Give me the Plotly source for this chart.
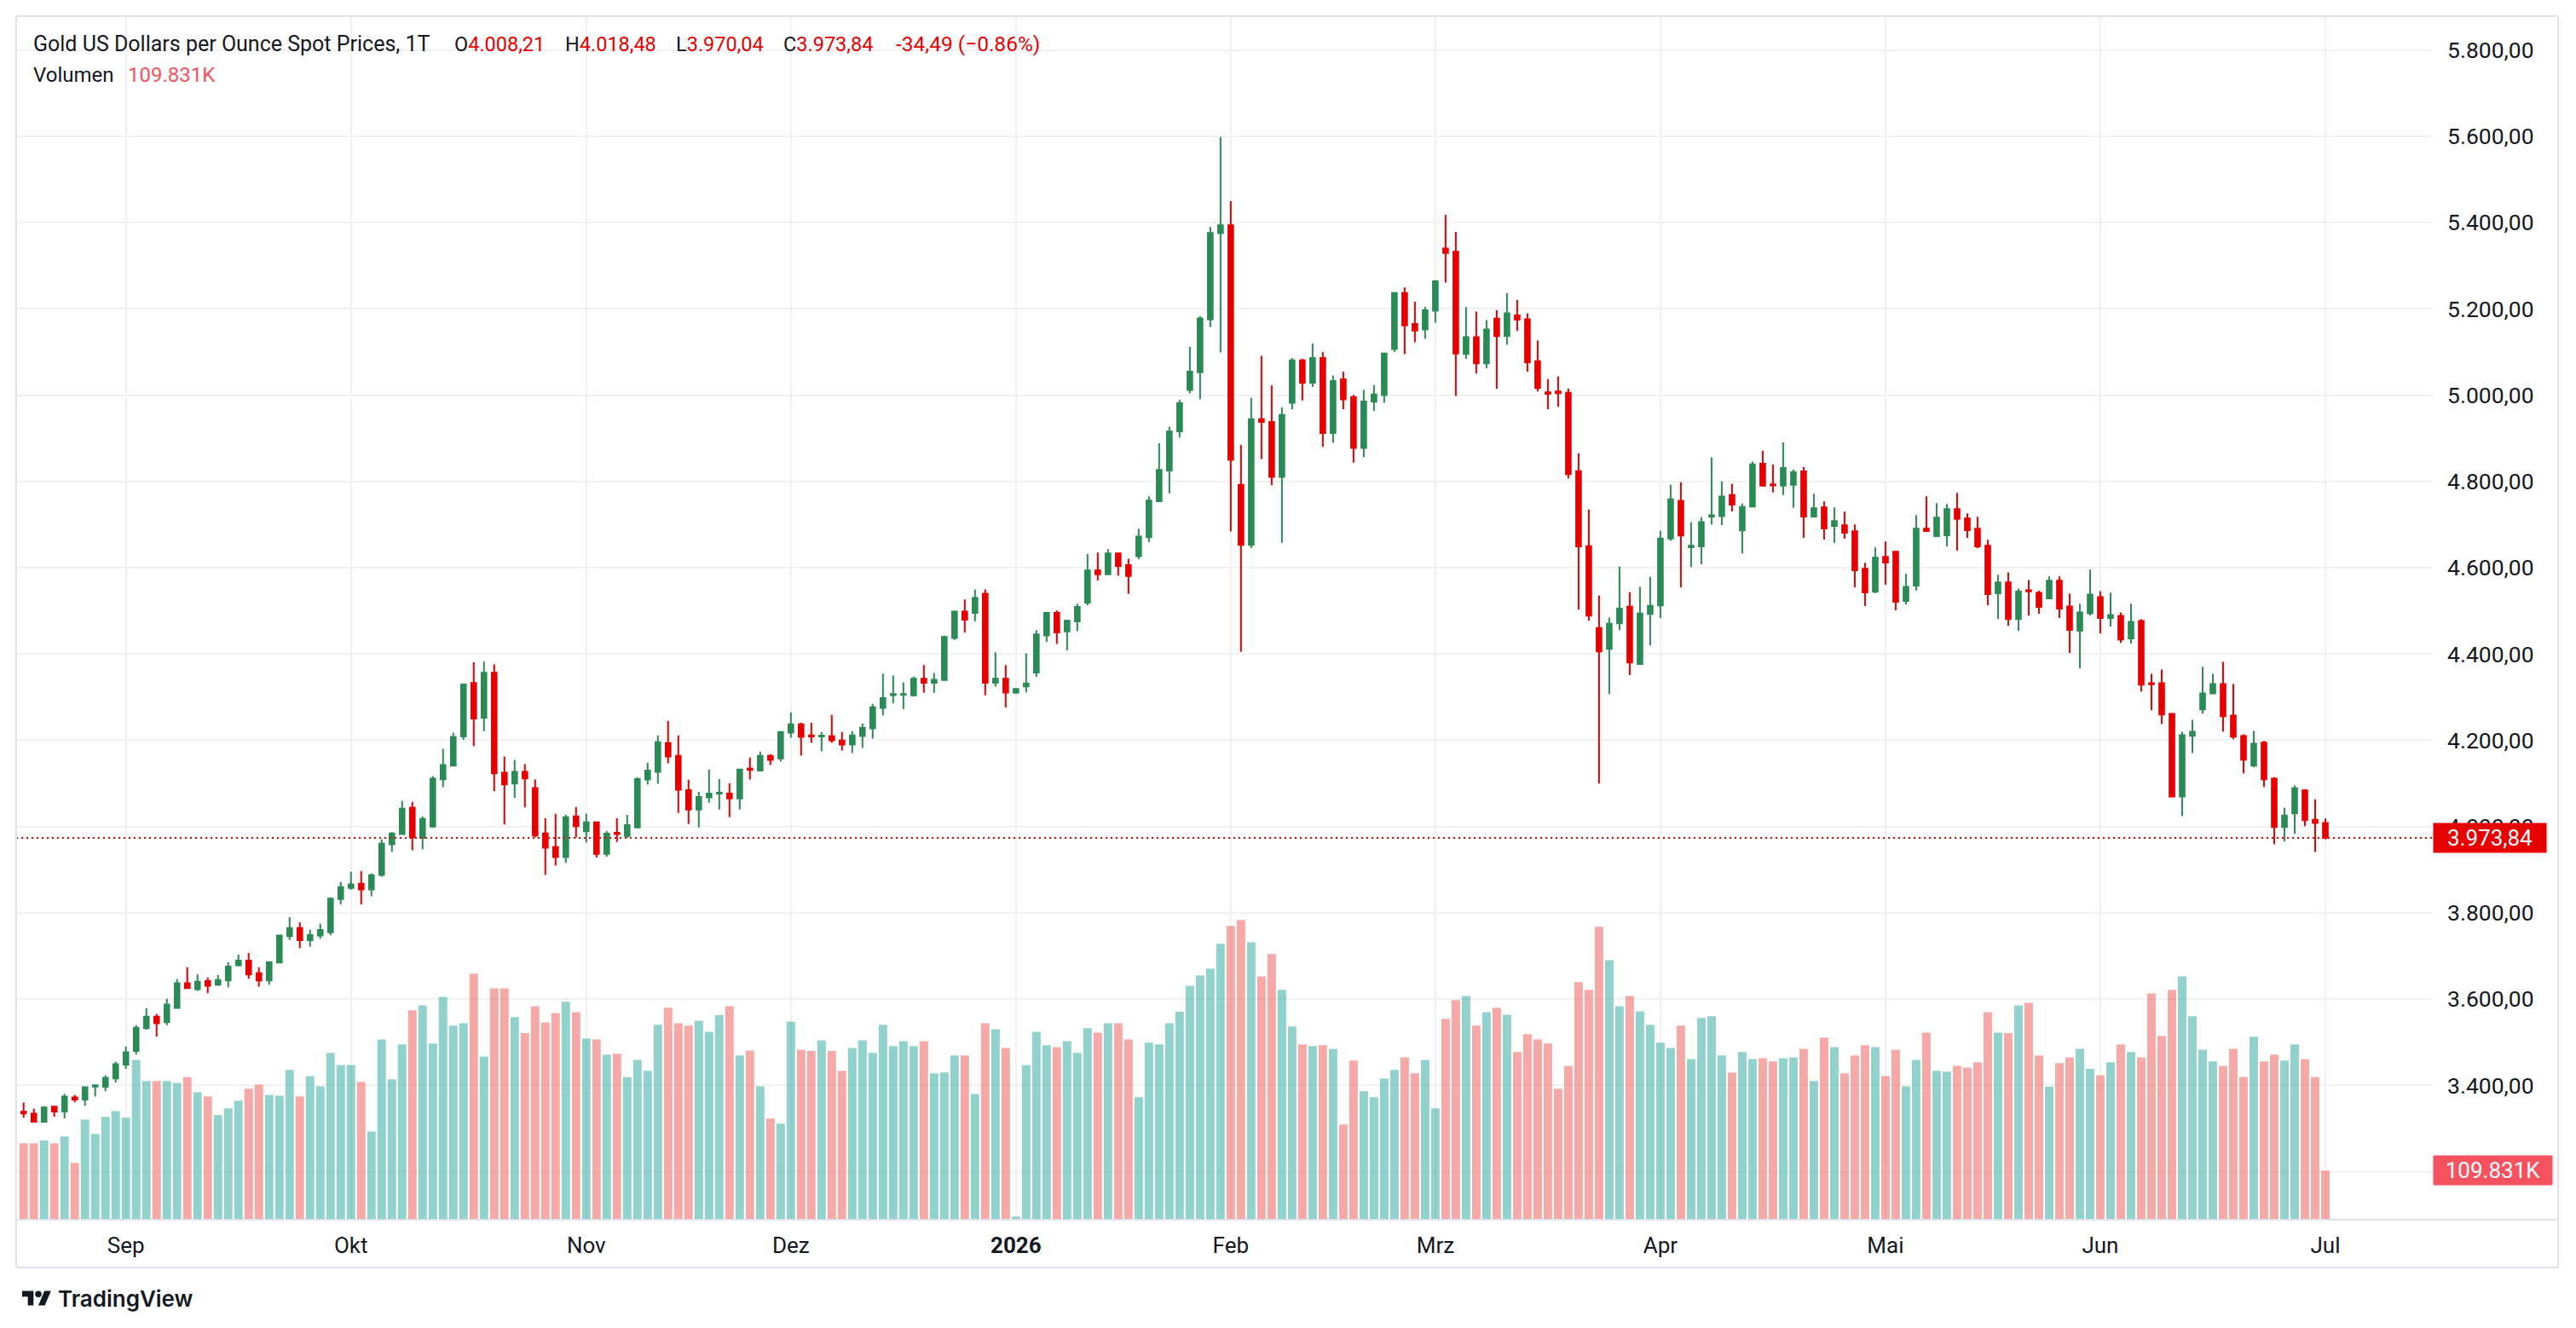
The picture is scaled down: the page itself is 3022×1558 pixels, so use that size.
import pandas as pd
import plotly.graph_objects as go

# ---------------- data ----------------
holidays = ["2025-12-25", "2026-01-01"]
dates = [d.strftime("%Y-%m-%d") for d in pd.bdate_range("2025-08-18", "2026-07-01")
         if d.strftime("%Y-%m-%d") not in holidays]

open_ = [
    3339.0, 3334.5, 3315.5, 3350.7, 3339.5, 3371.9, 3366.9, 3397.2, 3396.5, 3416.2,
    3447.9, 3479.6, 3532.4, 3559.2, 3546.5, 3579.6, 3636.6, 3623.2, 3641.5, 3633.1,
    3643.0, 3678.2, 3689.4, 3659.9, 3643.0, 3684.5, 3745.8, 3764.8, 3736.6, 3747.2,
    3755.0, 3831.7, 3857.4, 3867.3, 3854.1, 3887.8, 3959.1, 3982.8, 4043.6, 3973.6,
    4000.0, 4109.6, 4141.3, 4208.6, 4332.7, 4252.1, 4356.4, 4124.8, 4099.7, 4126.7,
    4089.1, 3984.2, 3952.5, 3929.4, 4023.8, 3988.8, 4009.9, 3936.6, 3985.5, 3978.2,
    3998.0, 4108.9, 4126.7, 4193.4, 4163.7, 4084.5, 4039.6, 4067.3, 4076.6, 4076.6,
    4065.3, 4134.0, 4130.0, 4163.7, 4157.8, 4217.8, 4237.0, 4211.2, 4208.6, 4209.2,
    4199.3, 4190.1, 4209.9, 4227.7, 4275.2, 4304.7, 4305.5, 4303.9, 4342.5, 4333.4,
    4339.5, 4437.1, 4498.3, 4495.3, 4539.9, 4333.4, 4342.5, 4310.7, 4325.1, 4356.9,
    4443.1, 4495.3, 4452.2, 4475.6, 4518.8, 4593.6, 4584.6, 4633.0, 4605.8, 4626.9,
    4670.8, 4754.0, 4825.1, 4916.1, 5012.0, 5053.1, 5175.5, 5375.3, 5393.8, 4792.1,
    4652.8, 4944.3, 4937.9, 4810.7, 4982.2, 5080.5, 5029.0, 5086.1, 4912.1, 5036.9,
    4995.1, 4877.5, 4984.6, 4999.9, 5107.0, 5236.7, 5165.0, 5152.2, 5195.7, 5339.8,
    5332.6, 5095.6, 5134.4, 5073.6, 5177.7, 5137.1, 5184.7, 5175.9, 5078.9, 5006.5,
    5008.3, 5005.6, 4823.9, 4650.1, 4460.4, 4411.9, 4471.1, 4509.8, 4376.6, 4493.0,
    4512.5, 4667.8, 4755.1, 4647.5, 4649.2, 4718.1, 4719.8, 4768.3, 4686.3, 4741.9,
    4840.9, 4793.4, 4790.1, 4792.1, 4823.1, 4718.8, 4739.9, 4697.0, 4698.3, 4684.5,
    4597.4, 4544.6, 4625.1, 4637.0, 4522.8, 4558.4, 4690.4, 4673.3, 4675.2, 4736.0,
    4714.2, 4690.4, 4650.8, 4540.6, 4565.7, 4481.2, 4547.9, 4541.9, 4528.8, 4569.7,
    4510.3, 4453.6, 4494.5, 4532.1, 4483.3, 4488.6, 4435.8, 4476.7, 4332.3, 4332.3,
    4261.1, 4069.3, 4210.3, 4271.7, 4308.6, 4330.3, 4257.2, 4209.7, 4141.1, 4194.5,
    4110.8, 3998.7, 4030.3, 4083.7, 4015.8, 4008.21,
]

high = [
    3360.0, 3345.8, 3352.0, 3352.8, 3380.3, 3378.2, 3395.8, 3400.0, 3423.3, 3455.0,
    3490.1, 3539.4, 3578.9, 3565.5, 3600.7, 3646.5, 3673.9, 3657.7, 3650.0, 3656.3,
    3685.9, 3703.5, 3707.0, 3673.9, 3686.0, 3748.6, 3790.1, 3778.2, 3760.6, 3775.0,
    3836.0, 3871.3, 3895.0, 3897.0, 3891.1, 3970.3, 3986.8, 4059.4, 4057.4, 4023.8,
    4116.8, 4180.2, 4217.8, 4331.4, 4380.9, 4382.2, 4376.2, 4162.4, 4154.5, 4144.6,
    4108.9, 4019.8, 4029.7, 4027.7, 4045.5, 4029.7, 4011.0, 3989.4, 4019.1, 4027.1,
    4114.2, 4147.9, 4211.2, 4244.9, 4211.2, 4108.3, 4080.5, 4132.0, 4110.2, 4100.3,
    4132.0, 4159.7, 4173.6, 4167.7, 4219.1, 4264.7, 4240.9, 4240.9, 4219.1, 4258.7,
    4219.1, 4221.1, 4238.9, 4284.5, 4354.6, 4350.1, 4334.2, 4347.8, 4374.3, 4356.1,
    4442.4, 4500.6, 4526.3, 4549.8, 4549.8, 4403.8, 4374.3, 4319.0, 4401.5, 4455.2,
    4497.6, 4500.6, 4479.4, 4516.5, 4631.5, 4635.2, 4642.8, 4633.0, 4620.9, 4690.5,
    4765.4, 4888.7, 4927.2, 4989.4, 5111.9, 5182.8, 5389.8, 5598.4, 5449.4, 4884.7,
    4993.5, 5090.9, 5022.5, 4971.7, 5086.1, 5084.5, 5119.9, 5099.8, 5045.8, 5054.7,
    5000.7, 5012.0, 5023.3, 5099.0, 5239.1, 5249.6, 5216.6, 5204.5, 5266.5, 5418.0,
    5378.5, 5204.2, 5193.6, 5174.2, 5197.1, 5236.8, 5220.9, 5190.0, 5126.5, 5037.4,
    5043.6, 5015.4, 4865.4, 4734.8, 4535.4, 4484.3, 4602.5, 4543.4, 4555.7, 4578.7,
    4685.4, 4792.1, 4798.3, 4705.7, 4717.2, 4855.7, 4800.1, 4794.8, 4748.9, 4845.9,
    4870.6, 4838.9, 4890.4, 4827.1, 4833.0, 4771.6, 4753.8, 4739.9, 4730.0, 4700.3,
    4611.2, 4646.9, 4660.7, 4637.0, 4585.5, 4722.1, 4765.7, 4749.8, 4747.9, 4773.6,
    4726.1, 4718.2, 4664.7, 4583.5, 4589.4, 4551.8, 4571.6, 4546.5, 4579.6, 4579.6,
    4540.0, 4516.3, 4595.4, 4545.9, 4542.0, 4496.5, 4516.3, 4480.7, 4354.1, 4364.0,
    4261.1, 4219.6, 4247.3, 4369.9, 4354.1, 4381.8, 4330.3, 4213.6, 4221.5, 4198.5,
    4114.7, 4043.5, 4095.0, 4087.0, 4063.3, 4018.48,
]

low = [
    3325.0, 3315.0, 3313.4, 3327.5, 3323.3, 3360.6, 3352.8, 3374.7, 3386.6, 3406.4,
    3438.0, 3471.2, 3528.9, 3512.7, 3539.4, 3579.6, 3625.0, 3619.0, 3613.4, 3631.0,
    3627.5, 3676.0, 3647.2, 3628.9, 3633.1, 3684.0, 3737.0, 3717.6, 3721.8, 3740.0,
    3748.0, 3819.8, 3853.5, 3819.8, 3838.3, 3883.8, 3941.3, 3982.0, 3945.2, 3947.2,
    3996.7, 4091.1, 4141.0, 4200.7, 4186.8, 4220.5, 4081.8, 4004.6, 4066.0, 4044.2,
    3974.9, 3887.8, 3909.6, 3915.5, 3974.9, 3963.0, 3928.1, 3930.0, 3964.4, 3973.6,
    3998.0, 4097.0, 4099.0, 4146.5, 4031.7, 4005.9, 3998.0, 4055.4, 4039.6, 4021.8,
    4039.6, 4108.9, 4128.7, 4142.6, 4150.5, 4205.9, 4164.4, 4194.1, 4174.3, 4194.1,
    4176.2, 4170.3, 4182.2, 4204.0, 4257.8, 4285.8, 4272.2, 4301.7, 4310.0, 4310.0,
    4339.0, 4432.5, 4449.9, 4475.6, 4303.9, 4324.4, 4275.9, 4307.7, 4310.7, 4347.0,
    4428.0, 4423.4, 4408.3, 4453.0, 4512.7, 4570.2, 4584.0, 4581.5, 4539.2, 4619.4,
    4659.5, 4754.0, 4772.2, 4901.7, 5004.0, 4990.2, 5157.8, 5099.0, 4684.2, 4404.7,
    4645.5, 4851.7, 4791.3, 4657.6, 4966.9, 4987.8, 5019.3, 4879.9, 4889.6, 4966.9,
    4843.7, 4855.7, 4962.9, 4982.2, 5100.6, 5095.0, 5122.4, 5130.4, 5167.5, 5260.9,
    4998.3, 5084.2, 5049.8, 5062.1, 5014.5, 5116.8, 5148.6, 5054.2, 5008.3, 4966.8,
    4973.0, 4807.1, 4502.8, 4477.2, 4099.6, 4306.9, 4455.1, 4351.0, 4376.0, 4419.9,
    4483.4, 4662.5, 4553.9, 4601.6, 4607.8, 4700.4, 4698.6, 4730.4, 4633.3, 4741.0,
    4787.5, 4774.3, 4768.3, 4738.6, 4669.3, 4716.8, 4665.3, 4657.4, 4667.3, 4554.5,
    4510.9, 4540.6, 4560.4, 4501.0, 4514.9, 4546.5, 4685.0, 4673.0, 4649.5, 4639.6,
    4669.3, 4645.5, 4512.9, 4481.2, 4465.3, 4453.5, 4489.1, 4493.1, 4528.0, 4483.3,
    4402.2, 4366.6, 4489.2, 4447.7, 4463.5, 4425.9, 4424.0, 4313.2, 4269.7, 4238.0,
    4067.3, 4024.4, 4170.1, 4261.8, 4307.3, 4220.2, 4202.4, 4123.3, 4137.2, 4091.7,
    3959.1, 3965.1, 3982.9, 4000.7, 3941.3, 3970.04,
]

close = [
    3335.0, 3315.5, 3348.6, 3339.5, 3374.0, 3366.9, 3395.8, 3400.0, 3417.6, 3449.3,
    3476.8, 3533.8, 3559.2, 3544.4, 3587.3, 3636.6, 3625.4, 3640.1, 3631.0, 3644.4,
    3675.4, 3689.4, 3657.0, 3643.0, 3685.9, 3747.2, 3764.8, 3736.6, 3748.6, 3760.4,
    3833.0, 3859.4, 3866.0, 3854.1, 3887.1, 3960.4, 3984.2, 4041.6, 3974.9, 4017.8,
    4110.9, 4142.6, 4207.9, 4329.4, 4250.2, 4356.4, 4123.4, 4097.7, 4126.7, 4111.6,
    3978.9, 3951.2, 3929.4, 4021.8, 4000.7, 4009.9, 3936.6, 3983.5, 3982.8, 4003.3,
    4110.2, 4130.0, 4195.4, 4162.4, 4085.1, 4039.6, 4068.6, 4076.6, 4078.5, 4065.3,
    4132.0, 4131.4, 4163.7, 4154.5, 4219.1, 4237.0, 4207.9, 4208.6, 4210.6, 4200.0,
    4190.1, 4211.2, 4229.0, 4276.6, 4297.9, 4307.0, 4307.0, 4342.5, 4333.4, 4340.2,
    4439.3, 4498.3, 4479.4, 4530.1, 4333.4, 4342.5, 4310.7, 4319.0, 4331.2, 4445.4,
    4495.3, 4449.9, 4477.2, 4508.9, 4593.6, 4584.6, 4633.0, 4604.2, 4580.8, 4672.3,
    4755.5, 4826.6, 4915.9, 4981.4, 5054.7, 5177.9, 5376.1, 5393.8, 4850.1, 4652.8,
    4944.3, 4937.9, 4810.7, 4954.0, 5080.5, 5029.0, 5086.1, 4912.1, 5032.9, 4990.2,
    4877.5, 4985.4, 5001.5, 5096.6, 5236.7, 5161.8, 5149.7, 5196.5, 5264.1, 5329.4,
    5096.6, 5134.4, 5073.6, 5152.1, 5137.1, 5190.0, 5175.0, 5076.2, 5016.2, 5003.0,
    5004.8, 4816.9, 4649.2, 4488.7, 4405.8, 4470.0, 4505.4, 4380.2, 4493.9, 4511.6,
    4667.8, 4758.6, 4674.8, 4651.0, 4705.7, 4721.6, 4764.8, 4746.3, 4740.9, 4839.8,
    4790.1, 4790.8, 4831.0, 4821.1, 4718.8, 4738.0, 4691.1, 4708.3, 4681.2, 4594.1,
    4542.6, 4623.1, 4611.9, 4520.8, 4555.8, 4690.4, 4685.1, 4716.2, 4736.0, 4712.9,
    4687.1, 4649.5, 4538.6, 4565.7, 4481.2, 4544.6, 4545.2, 4508.9, 4569.7, 4505.1,
    4455.6, 4496.5, 4538.0, 4483.3, 4490.6, 4433.8, 4474.7, 4329.0, 4329.7, 4259.8,
    4069.3, 4211.7, 4219.6, 4308.6, 4330.3, 4255.8, 4208.4, 4154.9, 4191.9, 4109.5,
    3998.7, 4025.7, 4089.0, 4014.5, 4008.33, 3973.84,
]

# volume in thousands
volume_k = [
    171, 171, 177, 171, 186, 127, 224, 192, 230, 243,
    228, 357, 310, 310, 310, 306, 319, 285, 276, 234,
    249, 266, 293, 302, 279, 277, 335, 276, 321, 298,
    373, 346, 346, 308, 197, 403, 314, 392, 468, 479,
    394, 498, 434, 439, 550, 365, 517, 517, 453, 417,
    477, 441, 462, 487, 464, 405, 403, 369, 371, 319,
    357, 333, 436, 474, 439, 434, 445, 420, 457, 477,
    367, 378, 298, 226, 215, 443, 380, 377, 401, 377,
    333, 384, 401, 373, 436, 388, 399, 388, 399, 327,
    329, 367, 367, 281, 439, 426, 384, 7, 346, 420,
    390, 386, 399, 373, 428, 418, 439, 439, 403, 274,
    396, 392, 439, 465, 523, 546, 561, 617, 657, 670,
    620, 544, 594, 514, 432, 392, 388, 390, 382, 213,
    356, 287, 274, 316, 335, 363, 327, 357, 249, 449,
    491, 500, 434, 464, 474, 458, 375, 415, 403, 394,
    293, 344, 531, 514, 655, 580, 477, 500, 466, 436,
    396, 384, 434, 359, 451, 455, 367, 329, 375, 359,
    361, 354, 361, 363, 382, 310, 407, 386, 327, 367,
    390, 386, 321, 380, 298, 357, 418, 333, 331, 344,
    340, 352, 464, 418, 417, 479, 485, 367, 297, 350,
    363, 382, 337, 323, 352, 392, 375, 363, 506, 411,
    514, 544, 455, 380, 354, 344, 382, 319, 409, 354,
    369, 356, 392, 359, 319, 109.831,
]

month_ticks = ["2025-09-01", "2025-10-01", "2025-11-03", "2025-12-01", "2026-01-02",
               "2026-02-02", "2026-03-02", "2026-04-01", "2026-05-01", "2026-06-01", "2026-07-01"]
month_labels = ["Sep", "Okt", "Nov", "Dez", "<b>2026</b>", "Feb", "Mrz", "Apr", "Mai", "Jun", "Jul"]
price_ticks = [3400, 3600, 3800, 4000, 4200, 4400, 4600, 4800, 5000, 5200, 5400, 5600, 5800]
hidden_grid = [3200]   # gridline whose label sits under the volume tag

title = "Gold US Dollars per Ounce Spot Prices, 1T"
volume_title = "Volumen"

# ---------------- styling ----------------
W, H = 3022, 1558
PL, PR, PT, PB = 19, 2854, 19, 1431
FONT = "Roboto"
TXT = "#131722"
UP = "#2c8a56"
DOWN = "#e60000"
VOL_UP = "rgba(38,166,154,0.5)"
VOL_DOWN = "rgba(239,83,80,0.5)"
GRID = "#f1f1f3"
BORDER = "#e0e3eb"


def fx(px):
    return (px - PL) / (PR - PL)


def fy(py):
    return (PB - py) / (PB - PT)


def de(v, nd=2):
    s = f"{v:,.{nd}f}"
    return s.replace(",", "X").replace(".", ",").replace("X", ".")


assert len(dates) == len(open_) == len(high) == len(low) == len(close) == len(volume_k)

vol_colors = [VOL_UP if c >= o else VOL_DOWN for o, c in zip(open_, close)]

fig = go.Figure()
fig.add_trace(go.Bar(
    x=dates, y=[v * 1000 for v in volume_k], marker=dict(color=vol_colors, line=dict(width=0)),
    yaxis="y", hoverinfo="skip", showlegend=False,
))
fig.add_trace(go.Candlestick(
    x=dates, open=open_, high=high, low=low, close=close, yaxis="y2",
    increasing=dict(line=dict(color=UP, width=2), fillcolor=UP),
    decreasing=dict(line=dict(color=DOWN, width=2), fillcolor=DOWN),
    whiskerwidth=0, showlegend=False,
))

last_o, last_h, last_l, last_c = open_[-1], high[-1], low[-1], close[-1]
prev_c = close[-2]
chg = last_c - prev_c
pct = chg / prev_c * 100

red = DOWN if chg < 0 else UP
annotations = []


def ann(px, py, text, size=23, color=TXT, anchor="left"):
    annotations.append(dict(x=fx(px), y=fy(py), xref="paper", yref="paper", text=text,
                            showarrow=False, xanchor=anchor, yanchor="middle",
                            font=dict(family=FONT, size=size, color=color)))


ann(37, 52, title, size=25)
ann(531, 52, f"O<span style='color:{red}'>{de(last_o)}</span>", size=23.5)
ann(661, 52, f"H<span style='color:{red}'>{de(last_h)}</span>", size=23.5)
ann(791, 52, f"L<span style='color:{red}'>{de(last_l)}</span>", size=23.5)
ann(917, 52, f"C<span style='color:{red}'>{de(last_c)}</span>", size=23.5)
ann(1049, 52, f"-{de(abs(chg))} (\u2212{abs(pct):.2f}%)", size=24.5, color=red)
ann(37, 88, volume_title, size=24)
ann(148, 88, f"{de(volume_k[-1], 3)}K".replace(",", "."), size=24, color="#f7525f")

# last price label
annotations.append(dict(x=1, y=last_c, xref="paper", yref="y2", text=de(last_c), showarrow=False,
                        xanchor="left", yanchor="middle", bgcolor=DOWN, width=128, height=30,
                        borderpad=2, font=dict(family=FONT, size=26, color="white")))
# last volume label
annotations.append(dict(x=1, y=volume_k[-1] * 1000, xref="paper", yref="y", text=f"{volume_k[-1]:.3f}K",
                        showarrow=False, xanchor="left", yanchor="middle", bgcolor="#f7525f",
                        width=135, height=30, borderpad=2, font=dict(family=FONT, size=26, color="white")))
# TradingView wordmark
annotations.append(dict(x=fx(66), y=fy(1523), xref="paper", yref="paper", text="TradingView",
                        showarrow=False, xanchor="left", yanchor="middle",
                        font=dict(family="Inter", size=26, color=TXT, weight=600)))

shapes = []
for g in hidden_grid:
    shapes.append(dict(type="line", xref="paper", x0=0, x1=1, yref="y2", y0=g, y1=g,
                       line=dict(color=GRID, width=2), layer="below"))
# last price dotted line
shapes.append(dict(type="line", xref="paper", x0=0, x1=1, yref="y2", y0=last_c, y1=last_c,
                   line=dict(color=DOWN, width=2, dash="2px,4px"), layer="above"))
# frame
RB, BB = 3001, 1487
for (x0, y0, x1, y1) in [(PL, PT, RB, PT), (PL, PT, PL, BB), (RB, PT, RB, BB), (PL, BB, RB, BB), (PL, PB, RB, PB)]:
    shapes.append(dict(type="line", xref="paper", yref="paper", x0=fx(x0), y0=fy(y0), x1=fx(x1), y1=fy(y1),
                       line=dict(color=BORDER, width=2), layer="above"))

# TradingView logo (from its 36x28 svg)
s, ox, oy = 0.95, 26, 1514.5


def lp(u, v):
    return fx(ox + u * s), fy(oy + (v - 4) * s)


def path(points):
    return "M" + " L".join(f"{a:.6f},{b:.6f}" for a, b in (lp(u, v) for u, v in points)) + " Z"


shapes.append(dict(type="path", xref="paper", yref="paper",
                   path=path([(14, 22), (7, 22), (7, 11), (0, 11), (0, 4), (14, 4)]),
                   fillcolor=TXT, line=dict(width=0)))
shapes.append(dict(type="path", xref="paper", yref="paper",
                   path=path([(28, 22), (20, 22), (27.5, 4), (35.5, 4)]),
                   fillcolor=TXT, line=dict(width=0)))
cx0, cy0 = lp(16, 4)
cx1, cy1 = lp(24, 12)
shapes.append(dict(type="circle", xref="paper", yref="paper", x0=cx0, y0=cy1, x1=cx1, y1=cy0,
                   fillcolor=TXT, line=dict(width=0)))

fig.update_layout(
    width=W, height=H, autosize=False,
    margin=dict(l=PL, r=W - PR, t=PT, b=H - PB, pad=0),
    paper_bgcolor="white", plot_bgcolor="white",
    separators=",.",
    bargap=0.17, boxgap=0.33,
    showlegend=False,
    font=dict(family=FONT, color=TXT, size=25),
    xaxis=dict(type="category", range=[-0.725, 235.5], tickmode="array", tickvals=month_ticks,
               ticktext=month_labels, showgrid=True, gridcolor=GRID, gridwidth=2, ticks="",
               showline=False, zeroline=False, tickfont=dict(family=FONT, size=26, color=TXT),
               ticklabelstandoff=12, rangeslider=dict(visible=False), fixedrange=True),
    yaxis=dict(range=[0, 2690000], visible=False, showgrid=False, fixedrange=True),
    yaxis2=dict(overlaying="y", side="right", range=[3088.5, 5878.4], tickmode="array",
                tickvals=price_ticks, tickformat=",.2f", showgrid=True, gridcolor=GRID, gridwidth=2,
                ticks="", showline=False, zeroline=False, ticklabelstandoff=16,
                tickfont=dict(family=FONT, size=26.5, color=TXT), fixedrange=True),
    annotations=annotations,
    shapes=shapes,
)

fig.write_html("out.html")
